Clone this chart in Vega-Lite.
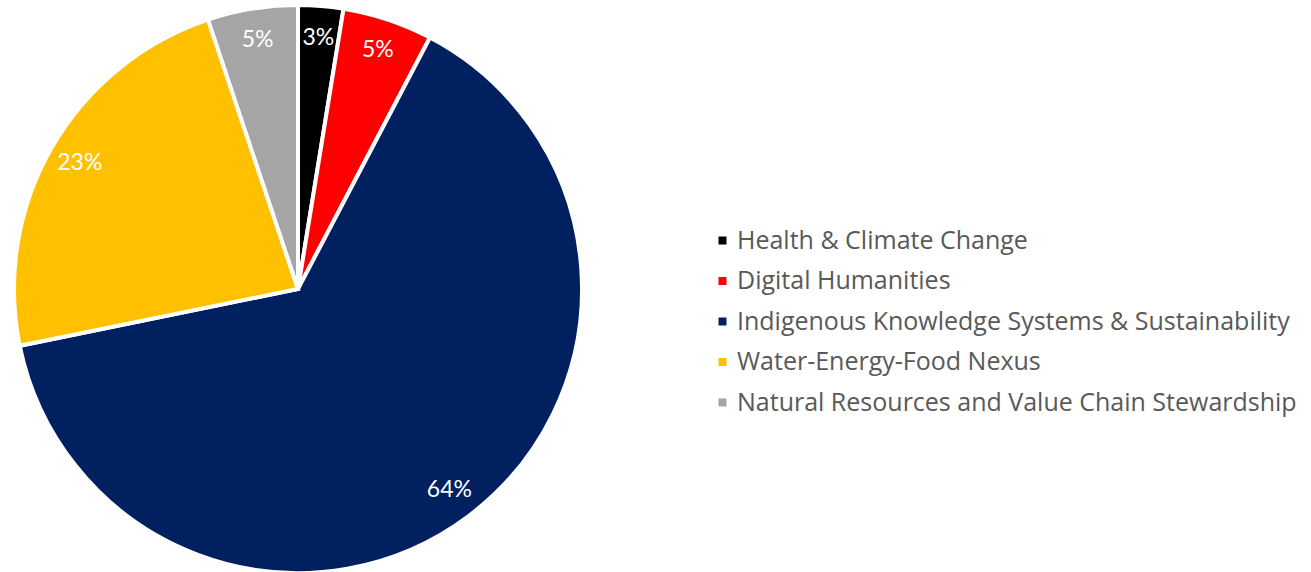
{
  "$schema": "https://vega.github.io/schema/vega-lite/v6.json",
  "autosize": "none",
  "padding": {"left": 13, "top": 6, "right": 728, "bottom": 0},
  "width": 570,
  "height": 566,
  "background": "white",
  "data": {
    "values": [
      {"idx": 1, "area": "Health & Climate Change", "count": 1, "label": "3%"},
      {"idx": 2, "area": "Digital Humanities", "count": 2, "label": "5%"},
      {"idx": 3, "area": "Indigenous Knowledge Systems & Sustainability", "count": 25, "label": "64%"},
      {"idx": 4, "area": "Water-Energy-Food Nexus", "count": 9, "label": "23%"},
      {"idx": 5, "area": "Natural Resources and Value Chain Stewardship", "count": 2, "label": "5%"}
    ]
  },
  "encoding": {
    "theta": {"field": "count", "type": "quantitative", "stack": true},
    "order": {"field": "idx", "type": "quantitative"}
  },
  "layer": [
    {
      "mark": {"type": "arc", "outerRadius": 284, "stroke": "white", "strokeWidth": 4},
      "encoding": {
        "color": {
          "field": "area",
          "type": "nominal",
          "scale": {
            "domain": ["Health & Climate Change", "Digital Humanities", "Indigenous Knowledge Systems & Sustainability", "Water-Energy-Food Nexus", "Natural Resources and Value Chain Stewardship"],
            "range": ["#000000", "#FF0000", "#002060", "#FFC000", "#A5A5A5"]
          },
          "legend": {
            "title": null,
            "orient": "none",
            "legendX": 697,
            "legendY": 222,
            "symbolType": "square",
            "symbolSize": 64,
            "symbolStrokeWidth": 0,
            "labelFont": "Open Sans",
            "labelFontSize": 25,
            "labelColor": "#595959",
            "labelLimit": 800,
            "rowPadding": 14.5,
            "labelOffset": 2
          }
        }
      }
    },
    {
      "mark": {"type": "text", "radius": 252, "font": "Lato", "fontSize": 23, "color": "white"},
      "encoding": {
        "text": {"field": "label", "type": "nominal"}
      }
    }
  ]
}
